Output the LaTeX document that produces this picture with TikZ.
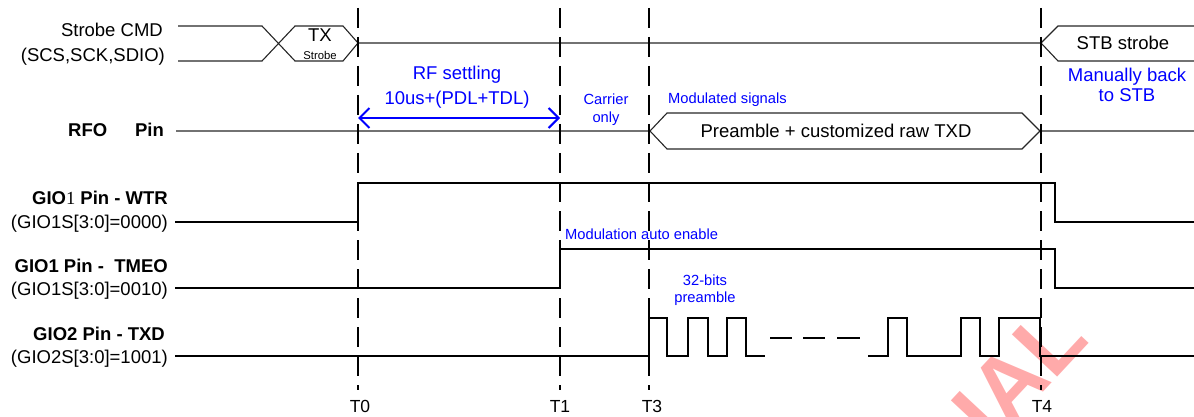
\documentclass[tikz,border=0pt]{standalone}
\usepackage{fontspec}
\setmainfont{Liberation Sans}
\newfontfamily\serifone{Liberation Serif}
\usetikzlibrary{arrows.meta}
\definecolor{lblue}{RGB}{0,0,255}
\definecolor{wmred}{RGB}{255,170,170}
\begin{document}
\begin{tikzpicture}[x=1pt,y=-1pt,
  thinl/.style={line width=1.1pt,black!85},
  sig/.style={line width=2.5pt,black,line join=miter},
  tline/.style={line width=2.5pt,black,dash pattern=on 20pt off 9pt},
  lbl/.style={inner sep=0pt,font=\fontsize{18.5}{20}\selectfont},
  blbl/.style={inner sep=0pt,font=\fontsize{18.5}{20}\selectfont\bfseries},
  bbig/.style={inner sep=0pt,text=lblue,font=\fontsize{18.5}{20}\selectfont},
  bsmall/.style={inner sep=0pt,text=lblue,font=\fontsize{14.7}{16}\selectfont},
  tlbl/.style={inner sep=0pt,anchor=base,font=\fontsize{17.5}{19}\selectfont},
  wmark/.style={inner sep=0pt,text=wmred,font=\fontsize{90}{90}\selectfont\bfseries}
]
\useasboundingbox (0,0) rectangle (1194,417);
% watermark
\node[wmark,rotate=47,anchor=base east] (wm) at (1091,341) {IAL};

% time marker coordinates
\coordinate (t0a) at (358,8);  \coordinate (t0b) at (358,390);
\coordinate (t1a) at (560,8);  \coordinate (t1b) at (560,390);
\coordinate (t3a) at (649,8);  \coordinate (t3b) at (649,390);
\coordinate (t4a) at (1041,8); \coordinate (t4b) at (1041,390);

% Strobe CMD bus
\draw[thinl] (178,26) -- (262,26) -- (295,61) -- (343,61) -- (358,43) -- (1041,43) -- (1058,26) -- (1194,26);
\draw[thinl] (178,61) -- (262,61) -- (295,26) -- (343,26) -- (358,43);
\draw[thinl] (1041,43) -- (1058,61) -- (1194,61);
\node[lbl,anchor=base] (tx) at (320,42) {TX};
\node[inner sep=0pt,anchor=base,font=\fontsize{11.3}{12}\selectfont] (txs) at (320,60) {Strobe};
\node[lbl,anchor=base] (stb) at (1123,50) {STB strobe};

% RFO bus
\draw[thinl] (176,131) -- (650,131) -- (667,113) -- (1022,113) -- (1040,131) -- (1194,131);
\draw[thinl] (650,131) -- (667,149) -- (1022,149) -- (1040,131);
\node[lbl,anchor=base] (pre) at (836,138) {Preamble + customized raw TXD};

% GIO1 WTR
\draw[sig] (175,222) -- (358,222) -- (358,183) -- (1055,183) -- (1055,222) -- (1194,222);
% GIO1 TMEO
\draw[sig] (175,288) -- (560,288) -- (560,249) -- (1055,249) -- (1055,288) -- (1194,288);
% GIO2 TXD
\draw[sig] (175,356) -- (649,356) -- (649,318) -- (667,318) -- (667,356) -- (688,356) -- (688,318) -- (708,318) -- (708,356) -- (727,356) -- (727,318) -- (746,318) -- (746,356) -- (765,356);
\draw[sig] (770,338) -- (792,338);
\draw[sig] (803,338) -- (825,338);
\draw[sig] (837,338) -- (860,338);
\draw[sig] (868,356) -- (888,356) -- (888,318) -- (907,318) -- (907,356) -- (961,356) -- (961,318) -- (980,318) -- (980,356) -- (999,356) -- (999,318) -- (1040,318) -- (1040,356) -- (1194,356);

% time markers
\draw[tline] (t0a) -- (t0b);
\draw[tline] (t1a) -- (t1b);
\draw[tline] (t3a) -- (t3b);
\draw[tline] (t4a) -- (t4b);
\node[tlbl] (T0) at (360,412) {T0};
\node[tlbl] (T1) at (560,412) {T1};
\node[tlbl] (T3) at (652,412) {T3};
\node[tlbl] (T4) at (1042,412) {T4};

% RF settling arrow
\coordinate (arrA) at (358,118);
\coordinate (arrB) at (560,118);
\draw[lblue,line width=2pt,{Straight Barb[length=10pt,width=20pt]}-{Straight Barb[length=10pt,width=20pt]}] (arrA) -- (arrB);
\node[bbig,anchor=base] (rf1) at (457,80) {RF settling};
\node[bbig,anchor=base] (rf2) at (457,105) {10us+(PDL+TDL)};
\node[bsmall,anchor=base] (car1) at (606,105) {Carrier};
\node[bsmall,anchor=base] (car2) at (606,123) {only};
\node[bsmall,anchor=base west] (mod) at (668,104) {Modulated signals};
\node[bbig,anchor=base] (man1) at (1127,82) {Manually back};
\node[bbig,anchor=base] (man2) at (1127,102) {to STB};
\node[bsmall,anchor=base west] (mae) at (565,239) {Modulation auto enable};
\node[bsmall,anchor=base] (p32a) at (705,285) {32-bits};
\node[bsmall,anchor=base] (p32b) at (705,302) {preamble};

% left labels
\node[lbl,anchor=base east] (l1) at (163,37) {Strobe CMD};
\node[lbl,anchor=base east] (l2) at (165,62) {(SCS,SCK,SDIO)};
\node[blbl,anchor=base west] (rfo) at (68,137) {RFO};
\node[blbl,anchor=base east] (rfop) at (164,137) {Pin};
\node[blbl,anchor=base east] (g1) at (168,204) {GIO{\mdseries\serifone 1} Pin - WTR};
\node[lbl,anchor=base east] (g1s) at (168,228) {(GIO1S[3:0]=0000)};
\node[blbl,anchor=base east] (g2) at (168,272) {GIO1 Pin -\ \ TMEO};
\node[lbl,anchor=base east] (g2s) at (168,295) {(GIO1S[3:0]=0010)};
\node[blbl,anchor=base east] (g3) at (165,340) {GIO2 Pin - TXD};
\node[lbl,anchor=base east] (g3s) at (168,363) {(GIO2S[3:0]=1001)};
\end{tikzpicture}
\end{document}
